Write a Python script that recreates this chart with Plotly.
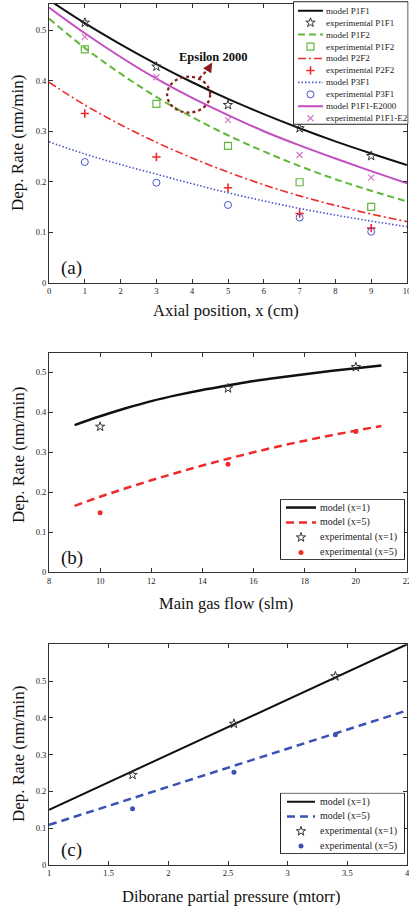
import plotly.graph_objects as go

W, H = 409, 909

# ---------------- Panel (a): Axial position ----------------
a_x_model = [0, 1, 2, 3, 4, 5, 6, 7, 8, 9, 10]
a_p1f1_model = [0.560, 0.514, 0.472, 0.433, 0.397, 0.364, 0.334, 0.306, 0.280, 0.256, 0.233]
a_p1f2_model = [0.523, 0.465, 0.414, 0.368, 0.328, 0.292, 0.260, 0.231, 0.205, 0.182, 0.161]
a_p2f2_model = [0.397, 0.352, 0.313, 0.278, 0.247, 0.219, 0.194, 0.172, 0.153, 0.136, 0.121]
a_p3f1_model = [0.279, 0.255, 0.234, 0.215, 0.196, 0.178, 0.162, 0.147, 0.134, 0.122, 0.111]
a_e2000_model = [0.545, 0.494, 0.447, 0.404, 0.366, 0.332, 0.300, 0.272, 0.246, 0.221, 0.197]

a_x_exp = [1, 3, 5, 7, 9]
a_p1f1_exp = [0.515, 0.428, 0.352, 0.306, 0.251]
a_p1f2_exp = [0.462, 0.354, 0.271, 0.199, 0.150]
a_p2f2_exp = [0.335, 0.249, 0.188, 0.137, 0.108]
a_p3f1_exp = [0.239, 0.198, 0.154, 0.129, 0.101]
a_e2_exp = [0.487, 0.407, 0.322, 0.253, 0.208]

a_xticks = [0, 1, 2, 3, 4, 5, 6, 7, 8, 9, 10]
a_yticks = [0, 0.1, 0.2, 0.3, 0.4, 0.5]

# ---------------- Panel (b): Main gas flow ----------------
b_x_model = [9, 10, 11, 12, 13, 14, 15, 16, 17, 18, 19, 20, 21]
b_x1_model = [0.368, 0.390, 0.410, 0.428, 0.443, 0.456, 0.467, 0.478, 0.487, 0.495, 0.503, 0.510, 0.517]
b_x5_model = [0.166, 0.189, 0.210, 0.230, 0.249, 0.267, 0.284, 0.300, 0.315, 0.329, 0.342, 0.354, 0.366]
b_x_exp = [10, 15, 20]
b_x1_exp = [0.364, 0.460, 0.513]
b_x5_exp = [0.149, 0.270, 0.352]
b_xticks = [8, 10, 12, 14, 16, 18, 20, 22]
b_yticks = [0, 0.1, 0.2, 0.3, 0.4, 0.5]

# ---------------- Panel (c): Diborane partial pressure ----------------
c_x_model = [1, 1.5, 2, 2.5, 3, 3.5, 4]
c_x1_model = [0.150, 0.225, 0.300, 0.375, 0.450, 0.525, 0.600]
c_x5_model = [0.109, 0.161, 0.213, 0.265, 0.316, 0.368, 0.420]
c_x_exp = [1.7, 2.55, 3.4]
c_x1_exp = [0.245, 0.384, 0.513]
c_x5_exp = [0.153, 0.252, 0.354]
c_xticks = [1, 1.5, 2, 2.5, 3, 3.5, 4]
c_yticks = [0, 0.1, 0.2, 0.3, 0.4, 0.5]

SERIF = "Liberation Serif"
AXC = "#333333"

# styles
BLACK = "#111111"
GREEN = "#62b83c"
RED = "#ee2a2a"
BLUE = "#4a55c8"
MAGENTA = "#c24fc0"
PINK = "#d27ac8"
BLUE_C = "#3a52b4"

st_p1f1 = dict(color=BLACK, width=2)
st_p1f2 = dict(color=GREEN, width=2, dash="7px,4px")
st_p2f2 = dict(color=RED, width=1.6, dash="8px,3px,2px,3px")
st_p3f1 = dict(color=BLUE, width=1.6, dash="1.5px,2px")
st_e2000 = dict(color=MAGENTA, width=2)

mk_star = dict(symbol="star-open", size=7, color="#333333", line=dict(width=1))
mk_sq = dict(symbol="square-open", size=7, color=GREEN, line=dict(width=1.2))
mk_cross = dict(symbol="cross-thin-open", size=6, color=RED, line=dict(width=1.6, color=RED))
mk_circ = dict(symbol="circle-open", size=7, color=BLUE, line=dict(width=1))
mk_x = dict(symbol="x-thin-open", size=6, color=PINK, line=dict(width=1.2, color=PINK))

st_b1 = dict(color=BLACK, width=2.5)
st_b5 = dict(color=RED, width=2.5, dash="8px,5px")
mk_b_dot = dict(symbol="circle", size=5, color=RED)

st_c1 = dict(color=BLACK, width=2)
st_c5 = dict(color=BLUE_C, width=2.5, dash="8px,5px")
mk_c_dot = dict(symbol="circle", size=5, color=BLUE_C)

fig = go.Figure()

def line(x, y, st, ax, shape="spline"):
    fig.add_trace(go.Scatter(x=x, y=y, mode="lines", line=dict(shape=shape, **st),
                             xaxis=ax[0], yaxis=ax[1], showlegend=False, hoverinfo="skip"))

def pts(x, y, mk, ax):
    fig.add_trace(go.Scatter(x=x, y=y, mode="markers", marker=mk,
                             xaxis=ax[0], yaxis=ax[1], showlegend=False, hoverinfo="skip"))

A = ("x", "y"); B = ("x2", "y2"); C = ("x3", "y3")

line(a_x_model, a_p3f1_model, st_p3f1, A)
line(a_x_model, a_p2f2_model, st_p2f2, A)
line(a_x_model, a_p1f2_model, st_p1f2, A)
line(a_x_model, a_e2000_model, st_e2000, A)
line(a_x_model, a_p1f1_model, st_p1f1, A)
pts(a_x_exp, a_p1f1_exp, mk_star, A)
pts(a_x_exp, a_p1f2_exp, mk_sq, A)
pts(a_x_exp, a_p2f2_exp, mk_cross, A)
pts(a_x_exp, a_p3f1_exp, mk_circ, A)
pts(a_x_exp, a_e2_exp, mk_x, A)

line(b_x_model, b_x1_model, st_b1, B)
line(b_x_model, b_x5_model, st_b5, B)
pts(b_x_exp, b_x1_exp, mk_star, B)
pts(b_x_exp, b_x5_exp, mk_b_dot, B)

line(c_x_model, c_x1_model, st_c1, C, "linear")
line(c_x_model, c_x5_model, st_c5, C, "linear")
pts(c_x_exp, c_x1_exp, mk_star, C)
pts(c_x_exp, c_x5_exp, mk_c_dot, C)

XDOM = [49 / W, 407 / W]

def ydom(top, bottom):
    return [1 - bottom / H, 1 - top / H]

def axis(**kw):
    d = dict(showline=True, linecolor=AXC, linewidth=1, mirror="ticks", ticks="inside",
             ticklen=4, tickcolor=AXC, showgrid=False, zeroline=False, automargin=False,
             ticklabeloverflow="allow",
             tickfont=dict(family=SERIF, size=8.5, color="#222"), fixedrange=True)
    d.update(kw)
    return d

fig.update_layout(
    template="none",
    width=W, height=H, margin=dict(l=0, r=0, t=0, b=0, pad=0, autoexpand=False),
    paper_bgcolor="white", plot_bgcolor="rgba(0,0,0,0)",
    showlegend=False,
    xaxis=axis(domain=XDOM, range=[0, 10], tickvals=a_xticks, anchor="y"),
    yaxis=axis(domain=ydom(4, 282.7), range=[0, 0.552], tickvals=a_yticks, anchor="x"),
    xaxis2=axis(domain=XDOM, range=[8, 22], tickvals=b_xticks, anchor="y2"),
    yaxis2=axis(domain=ydom(352.7, 572.3), range=[0, 0.549], tickvals=b_yticks, anchor="x2"),
    xaxis3=axis(domain=XDOM, range=[1, 4], tickvals=c_xticks, anchor="y3"),
    yaxis3=axis(domain=ydom(644.3, 865), range=[0, 0.6], tickvals=c_yticks, anchor="x3"),
)

annotations = []
shapes = []

def paper_text(text, xc, yc, size, angle=0, xanchor="center"):
    annotations.append(dict(text=text, x=xc / W, y=1 - yc / H, xref="paper", yref="paper",
                            xanchor=xanchor, yanchor="middle", textangle=angle, showarrow=False,
                            font=dict(family=SERIF, size=size, color="#111")))

# axis titles
for yc in [143, 455, 754]:
    paper_text("Dep. Rate (nm/min)", 18, yc, 17, angle=-90)
paper_text("Axial position, x (cm)", 226, 311, 16.5)
paper_text("Main gas flow (slm)", 226, 603, 16.5)
paper_text("Diborane partial pressure (mtorr)", 231, 896, 16.5)
# panel labels
paper_text("(a)", 59, 268, 19, xanchor="left")
paper_text("(b)", 59, 558, 19, xanchor="left")
paper_text("(c)", 59, 850, 19, xanchor="left")

# Epsilon 2000 callout
DR = "#8b1a1a"
annotations.append(dict(text="<b>Epsilon 2000</b>", x=4.58, y=0.447, xref="x", yref="y", showarrow=False,
                        xanchor="center", yanchor="middle",
                        font=dict(family=SERIF, size=12.5, color="#111")))
shapes.append(dict(type="circle", xref="x", yref="y", x0=3.3, x1=4.5, y0=0.337, y1=0.408,
                   line=dict(color=DR, width=2.2, dash="dot")))
shapes.append(dict(type="line", xref="x", yref="y", x0=4.2, y0=0.405, x1=4.52, y1=0.428,
                   line=dict(color=DR, width=2.2, dash="dot")))
annotations.append(dict(x=4.56, y=0.436, ax=4.4, ay=0.418, xref="x", yref="y", axref="x", ayref="y",
                        text="", showarrow=True, arrowhead=2, arrowsize=1.2, arrowwidth=1.6, arrowcolor=DR))

# ---------------- custom legends ----------------
def add_legend(idx, box, entries, fsize, first, step, lx, tx):
    x0, x1, y0, y1 = box
    fig.layout[f"xaxis{idx}"] = dict(domain=[x0 / W, x1 / W], range=[0, 1], visible=False,
                                     fixedrange=True, anchor=f"y{idx}", automargin=False)
    fig.layout[f"yaxis{idx}"] = dict(domain=[1 - y1 / H, 1 - y0 / H], range=[0, 1], visible=False,
                                     fixedrange=True, anchor=f"x{idx}", automargin=False)
    shapes.append(dict(type="rect", xref=f"x{idx}", yref=f"y{idx}", x0=0.004, x1=0.996, y0=0.006, y1=0.994,
                       fillcolor="white", line=dict(color="#222", width=1), layer="below"))
    for i, (label, kind, st) in enumerate(entries):
        yy = 1 - (first + i * step)
        if kind == "line":
            fig.add_trace(go.Scatter(x=[lx[0], lx[1]], y=[yy, yy], mode="lines", line=st,
                                     xaxis=f"x{idx}", yaxis=f"y{idx}", showlegend=False, hoverinfo="skip"))
        else:
            fig.add_trace(go.Scatter(x=[(lx[0] + lx[1]) / 2], y=[yy], mode="markers", marker=st,
                                     xaxis=f"x{idx}", yaxis=f"y{idx}", showlegend=False, hoverinfo="skip"))
        annotations.append(dict(text=label, x=tx, y=yy, xref=f"x{idx}", yref=f"y{idx}", xanchor="left",
                                yanchor="middle", showarrow=False, font=dict(family=SERIF, size=fsize, color="#222")))

add_legend(4, (293, 408.5, 1, 125), [
    ("model P1F1", "line", st_p1f1),
    ("experimental P1F1", "marker", mk_star),
    ("model P1F2", "line", st_p1f2),
    ("experimental P1F2", "marker", mk_sq),
    ("model P2F2", "line", st_p2f2),
    ("experimental P2F2", "marker", mk_cross),
    ("model P3F1", "line", st_p3f1),
    ("experimental P3F1", "marker", mk_circ),
    ("model P1F1-E2000", "line", st_e2000),
    ("experimental P1F1-E2", "marker", mk_x),
], 9, 0.078, 0.0964, (0.043, 0.26), 0.272)

add_legend(5, (280, 405, 499, 560), [
    ("model (x=1)", "line", st_b1),
    ("model (x=5)", "line", st_b5),
    ("experimental (x=1)", "marker", mk_star),
    ("experimental (x=5)", "marker", mk_b_dot),
], 10, 0.14, 0.245, (0.048, 0.288), 0.3)

add_legend(6, (280, 405, 792.7, 854), [
    ("model (x=1)", "line", st_c1),
    ("model (x=5)", "line", st_c5),
    ("experimental (x=1)", "marker", mk_star),
    ("experimental (x=5)", "marker", mk_c_dot),
], 10, 0.147, 0.241, (0.056, 0.28), 0.3)

fig.update_layout(annotations=annotations, shapes=shapes)

fig.write_html("out.html", config={"displayModeBar": False, "staticPlot": True},
               post_script="document.body.style.margin='0px';document.body.style.padding='0px';"
                           "document.documentElement.style.overflow='hidden';")
